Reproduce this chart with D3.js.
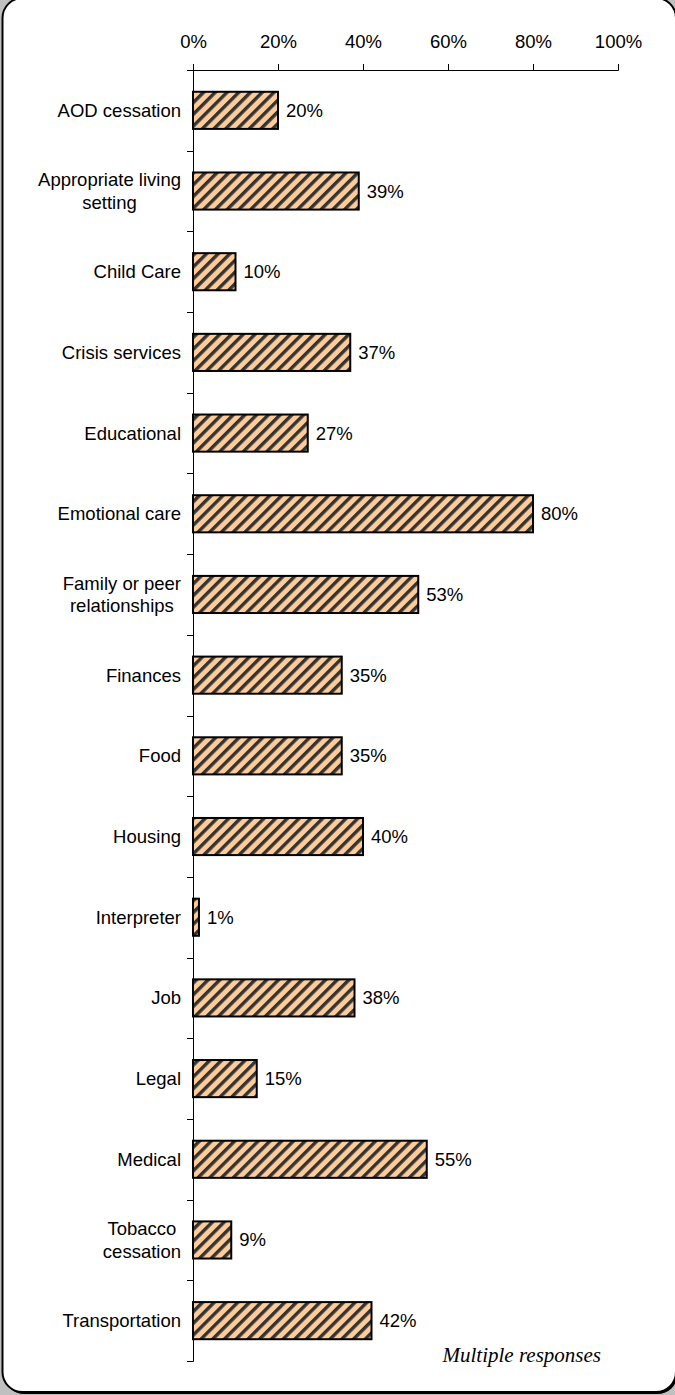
<!DOCTYPE html>
<html>
<head>
<meta charset="utf-8">
<script src="https://cdn.jsdelivr.net/npm/d3@7"></script>
<style>
  html, body { margin: 0; padding: 0; background: #c0c0c0; }
  svg { display: block; }
</style>
</head>
<body>
<svg id="chart" width="675" height="1395"></svg>
<script>
const categories = [
  "AOD cessation",
  "Appropriate living\nsetting",
  "Child Care",
  "Crisis services",
  "Educational",
  "Emotional care",
  "Family or peer\nrelationships",
  "Finances",
  "Food",
  "Housing",
  "Interpreter",
  "Job",
  "Legal",
  "Medical",
  "Tobacco\ncessation",
  "Transportation"
];
const values = [20, 39, 10, 37, 27, 80, 53, 35, 35, 40, 1.4, 38, 15, 55, 9, 42];
const valueLabels = ["20%", "39%", "10%", "37%", "27%", "80%", "53%", "35%", "35%", "40%", "1%", "38%", "15%", "55%", "9%", "42%"];
const xTicks = [0, 20, 40, 60, 80, 100];
const note = "Multiple responses";

const svg = d3.select("#chart");

// frame
svg.append("rect")
  .attr("x", 4).attr("y", 0).attr("width", 673.5).attr("height", 1394)
  .attr("rx", 20).attr("fill", "#000");
svg.append("rect")
  .attr("x", 2.5).attr("y", -2).attr("width", 673.5).attr("height", 1394)
  .attr("rx", 20).attr("fill", "#fff").attr("stroke", "#000").attr("stroke-width", 2);

// pattern
const defs = svg.append("defs");
const pat = defs.append("pattern")
  .attr("id", "hatch")
  .attr("patternUnits", "userSpaceOnUse")
  .attr("width", 8.3).attr("height", 8.3)
  .attr("patternTransform", "rotate(45)");
pat.append("rect").attr("width", 8.3).attr("height", 8.3).attr("fill", "#FFCC99");
pat.append("rect").attr("x", 0).attr("y", 0).attr("width", 3.4).attr("height", 8.3).attr("fill", "#333333");

const x = d3.scaleLinear().domain([0, 100]).range([193, 618]);
const y = d3.scaleBand().domain(categories).range([70, 1361]).padding(0);
const bw = y.bandwidth();
const barH = bw * 0.46;

const font = "'Liberation Sans', Arial, sans-serif";

// x axis (top)
const xAxis = svg.append("g")
  .attr("transform", "translate(0,70)")
  .call(d3.axisTop(x).tickValues(xTicks).tickSize(6).tickSizeOuter(6).tickPadding(16).tickFormat(d => d + "%"));
xAxis.selectAll("path, line").attr("stroke", "#000").attr("stroke-width", 1);
xAxis.selectAll("text").attr("font-family", font).attr("font-size", "18.5px").attr("fill", "#000");

// y axis line
svg.append("line")
  .attr("x1", 193.5).attr("x2", 193.5)
  .attr("y1", 64).attr("y2", 1361.5)
  .attr("stroke", "#000").attr("stroke-width", 1);

// y boundary ticks
const bounds = categories.map(c => y(c)).concat([y.range()[1]]);
svg.append("g").selectAll("line").data(bounds).join("line")
  .attr("x1", 187).attr("x2", 193.5)
  .attr("y1", d => Math.round(d) + 0.5).attr("y2", d => Math.round(d) + 0.5)
  .attr("stroke", "#000").attr("stroke-width", 1);

// bars
svg.append("g").selectAll("rect").data(categories).join("rect")
  .attr("x", x(0))
  .attr("y", c => y(c) + (bw - barH) / 2)
  .attr("width", (c, i) => x(values[i]) - x(0))
  .attr("height", barH)
  .attr("fill", "url(#hatch)")
  .attr("stroke", "#000")
  .attr("stroke-width", 2);

// value labels
svg.append("g").selectAll("text").data(categories).join("text")
  .attr("x", (c, i) => x(values[i]) + 8)
  .attr("y", c => y(c) + bw / 2)
  .attr("dy", "0.35em")
  .attr("font-family", font).attr("font-size", "18.5px").attr("fill", "#000")
  .text((c, i) => valueLabels[i]);

// category labels
const lineH = 22.5;
categories.forEach(c => {
  const lines = c.split("\n");
  const cy = y(c) + bw / 2;
  if (lines.length === 1) {
    svg.append("text")
      .attr("x", 181).attr("y", cy).attr("dy", "0.35em")
      .attr("text-anchor", "end")
      .attr("font-family", font).attr("font-size", "18.5px").attr("fill", "#000")
      .text(lines[0]);
  } else {
    const tmp = svg.append("text").attr("font-family", font).attr("font-size", "18.5px");
    let maxW = 0;
    lines.forEach(l => { tmp.text(l); maxW = Math.max(maxW, tmp.node().getComputedTextLength()); });
    tmp.remove();
    const center = 181 - maxW / 2;
    const t = svg.append("text")
      .attr("text-anchor", "middle")
      .attr("font-family", font).attr("font-size", "18.5px").attr("fill", "#000");
    lines.forEach((l, k) => {
      t.append("tspan")
        .attr("x", center)
        .attr("y", cy + (k - (lines.length - 1) / 2) * lineH)
        .attr("dy", "0.35em")
        .text(l);
    });
  }
});

// note
svg.append("text")
  .attr("x", 601).attr("y", 1362)
  .attr("text-anchor", "end")
  .attr("font-family", "'Liberation Serif', 'Times New Roman', serif")
  .attr("font-style", "italic")
  .attr("font-size", "21px")
  .attr("fill", "#000")
  .text(note);
</script>
</body>
</html>
